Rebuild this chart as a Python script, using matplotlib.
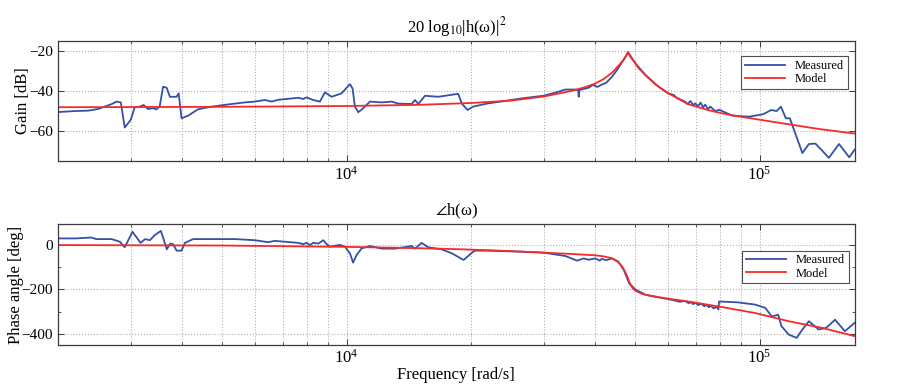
import numpy as np
import matplotlib
matplotlib.use("Agg")
import matplotlib.pyplot as plt
from matplotlib.ticker import LogLocator, MultipleLocator, NullFormatter

plt.rcParams['font.family'] = ['Liberation Serif', 'DejaVu Serif']
plt.rcParams['mathtext.fontset'] = 'stix'
plt.rcParams['axes.unicode_minus'] = True

# ---------------- data ----------------
gain_meas_f = [2000, 2200, 2366, 2500, 2596, 2700, 2772, 2839, 2902, 3000, 3069, 3155, 3225, 3303,
               3400, 3460, 3525, 3594, 3666, 3733, 3875, 3920, 3983, 4132, 4368, 4708, 5264, 5670,
               5995, 6339, 6586, 6832, 7634, 7849, 8000, 8300, 8618, 8861, 9197, 9725, 10186,
               10340, 10474, 10670, 10970, 11390, 12160, 12860, 13340, 14370, 14640, 14920, 15480,
               16680, 17970, 18630, 19000, 19630, 20240, 21990, 24190, 26530, 29960, 31980, 33840,
               35810, 36400, 36490, 36600, 38550, 39500, 40500, 41520, 42500, 43910, 45200, 46490,
               48080, 50110, 53000, 56960, 60030, 62000, 63000, 64710, 66000, 67000, 68000, 69000,
               69890, 71000, 72000, 73000, 73880, 75000, 76000, 78130, 80000, 85890, 94470,
               102000, 106700, 110000, 112700, 115800, 118400, 122400, 127000, 131700, 136600,
               141800, 147200, 155800, 164900, 170000]
gain_meas_db = [-50.5, -50.0, -49.8, -49.0, -47.8, -46.5, -45.3, -45.7, -58.2, -54.4, -48.1, -47.8,
                -47.0, -49.0, -48.6, -49.2, -47.8, -37.9, -38.4, -42.9, -42.9, -41.2, -53.6, -52.3,
                -49.1, -47.8, -46.5, -45.7, -45.3, -44.5, -45.3, -44.4, -43.4, -44.0, -43.2, -44.5,
                -45.3, -40.7, -42.9, -41.2, -36.6, -38.8, -47.8, -50.6, -48.6, -45.3, -45.7, -45.3,
                -46.3, -46.5, -44.5, -46.5, -42.4, -42.9, -41.9, -41.4, -46.2, -49.5, -47.8, -46.2,
                -45.0, -43.7, -42.4, -40.9, -39.3, -39.3, -39.6, -42.9, -39.6, -38.4, -37.0, -38.0,
                -36.8, -36.0, -33.0, -29.5, -25.6, -20.8, -26.4, -32.2, -37.9, -41.2, -42.0, -43.4,
                -44.5, -45.3, -46.5, -45.0, -46.9, -46.2, -47.6, -45.8, -48.2, -46.8, -49.0, -47.8,
                -50.0, -49.4, -52.3, -52.8, -51.6, -49.5, -50.0, -47.8, -53.6, -53.6, -61.8,
                -70.9, -66.4, -66.2, -69.7, -73.3, -66.4, -73.0, -69.2]

gain_model_f = [2000, 5000, 10000, 15000, 20000, 25000, 30000, 35000, 38000, 40000, 42000, 44000,
                46000, 47000, 47500, 48000, 48500, 49000, 49500, 51000, 53000, 56000, 60000, 67000,
                75000, 81000, 90000, 100000, 117000, 140000, 170000]
gain_model_db = [-48.1, -47.9, -47.5, -46.9, -46.0, -44.8, -42.8, -40.0, -38.0, -36.3, -34.0, -30.8,
                 -26.5, -24.2, -22.6, -20.6, -22.4, -23.8, -25.0, -28.8, -32.2, -36.8, -41.0, -46.5,
                 -49.5, -51.1, -52.8, -54.3, -56.5, -59.0, -61.2]

phase_meas_f = [2000, 2198, 2410, 2478, 2699, 2825, 2902, 3030, 3170, 3250, 3340, 3430, 3550, 3670,
                3740, 3800, 3875, 3983, 4060, 4250, 4710, 5370, 5995, 6457, 6700, 7634, 7849, 8000,
                8150, 8300, 8550, 8780, 8950, 9110, 9633, 9906, 10186, 10370, 10570, 10870, 11390,
                12160, 13090, 14370, 14640, 15190, 15770, 16980, 17970, 18300, 19200, 20240, 20460,
                21990, 26530, 29960, 33840, 36150, 37530, 38500, 40000, 41000, 41520, 42500, 43910,
                45560, 46910, 48330, 50110, 53000, 55870, 58000, 61150, 64000, 66000, 67270, 68500,
                69000, 70000, 71000, 72380, 73500, 74000, 75500, 76000, 77500, 78830, 79500, 79800,
                88700, 97600, 103300, 107000, 111000, 113000, 117700, 123000, 127000, 131700,
                139000, 145000, 152400, 161000, 170000]
phase_meas_deg = [30, 30, 34, 27, 27, 15, -10, 60, 10, 27, 22, 45, 64, -19, 7, 4, -25, -25, 10, 27,
                  27, 27, 22, 13, 19, 10, 4, 10, 0, 10, 7, 22, 4, -7, 1, -7, -37, -79, -45, -15, -4,
                  -16, -16, -4, -16, 10, -10, -19, -37, -45, -67, -30, -25, -25, -30, -34, -49, -70,
                  -60, -66, -60, -70, -62, -68, -60, -75, -112, -172, -201, -224, -233, -238, -246,
                  -255, -252, -261, -258, -266, -260, -270, -264, -276, -268, -280, -272, -285,
                  -278, -290, -254, -258, -268, -283, -321, -314, -365, -403, -418, -380, -343,
                  -380, -373, -336, -388, -350]

phase_model_f = [2000, 5000, 10000, 15000, 19000, 25000, 30000, 35000, 40000, 42000, 44000, 44700,
                 45500, 46490, 47200, 47830, 48700, 49400, 50110, 51500, 53000, 55870, 57400, 67270,
                 81040, 97600, 117700, 141800, 170000]
phase_model_deg = [0, -2, -8, -14, -19, -27, -34, -40, -46, -51, -60, -67, -78, -97, -118, -142,
                   -179, -196, -206, -217, -224, -231, -236, -254, -279, -306, -343, -373, -410]

series_labels = ['Measured', 'Model']
x_limits = (2000, 170000)

# ---------------- figure ----------------
BLUE = '#3451a6'
RED = '#f52a2a'
EDGE = '#3c3c3c'

fig = plt.figure(figsize=(8.99, 3.88), dpi=100)
ax1 = fig.add_axes([0.0645, 0.5843, 0.8862, 0.3108])
ax2 = fig.add_axes([0.0645, 0.1108, 0.8862, 0.3119])


def style(ax):
    ax.set_xscale('log')
    ax.set_xlim(*x_limits)
    ax.xaxis.set_major_locator(LogLocator(base=10, numticks=10))
    ax.xaxis.set_minor_locator(LogLocator(base=10, subs=np.arange(2, 10), numticks=20))
    ax.xaxis.set_minor_formatter(NullFormatter())
    ax.grid(True, which='major', axis='both', linestyle=':', color='#b0b0b0', linewidth=0.8)
    ax.grid(True, which='minor', axis='x', linestyle=':', color='#b0b0b0', linewidth=0.8)
    ax.tick_params(which='both', direction='in', top=True, right=True, colors=EDGE,
                   labelcolor='black', labelsize=11)
    ax.tick_params(axis='x', which='major', labelsize=12, pad=3)
    ax.tick_params(which='major', length=4, width=0.7)
    ax.tick_params(which='minor', length=2.5, width=0.6)
    for s in ax.spines.values():
        s.set_color(EDGE)
        s.set_linewidth(0.9)
    ax.set_axisbelow(True)


ax1.plot(gain_meas_f, gain_meas_db, color=BLUE, lw=1.3, label=series_labels[0])
ax1.plot(gain_model_f, gain_model_db, color=RED, lw=1.3, label=series_labels[1])
style(ax1)
ax1.set_ylim(-75, -15)
ax1.yaxis.set_major_locator(MultipleLocator(20))
ax1.set_ylabel('Gain [dB]', fontsize=12, labelpad=-1.5)
ax1.set_title(r'20 log$_{10}$|h(ω)|$^{2}$', fontsize=12, pad=6)

ax2.plot(phase_meas_f, phase_meas_deg, color=BLUE, lw=1.3, label=series_labels[0])
ax2.plot(phase_model_f, phase_model_deg, color=RED, lw=1.3, label=series_labels[1])
style(ax2)
ax2.set_ylim(-450, 95)
ax2.yaxis.set_major_locator(MultipleLocator(200))
ax2.yaxis.set_minor_locator(MultipleLocator(100))
ax2.set_ylabel('Phase angle [deg]', fontsize=12, labelpad=-1.5)
ax2.set_xlabel('Frequency [rad/s]', fontsize=12, labelpad=0)
ax2.set_title(r'$\angle$h(ω)', fontsize=12, pad=6)

for ax, anchor in ((ax1, (0.991, 0.871)), (ax2, (0.9925, 0.779))):
    leg = ax.legend(loc='upper right', bbox_to_anchor=anchor, borderaxespad=0,
                    fontsize=9, fancybox=False, framealpha=1, edgecolor='#505050',
                    handlelength=3.2, handletextpad=0.8, borderpad=0.3, labelspacing=0.1)
    leg.get_frame().set_linewidth(0.8)

fig.savefig('out.png', dpi=100)
